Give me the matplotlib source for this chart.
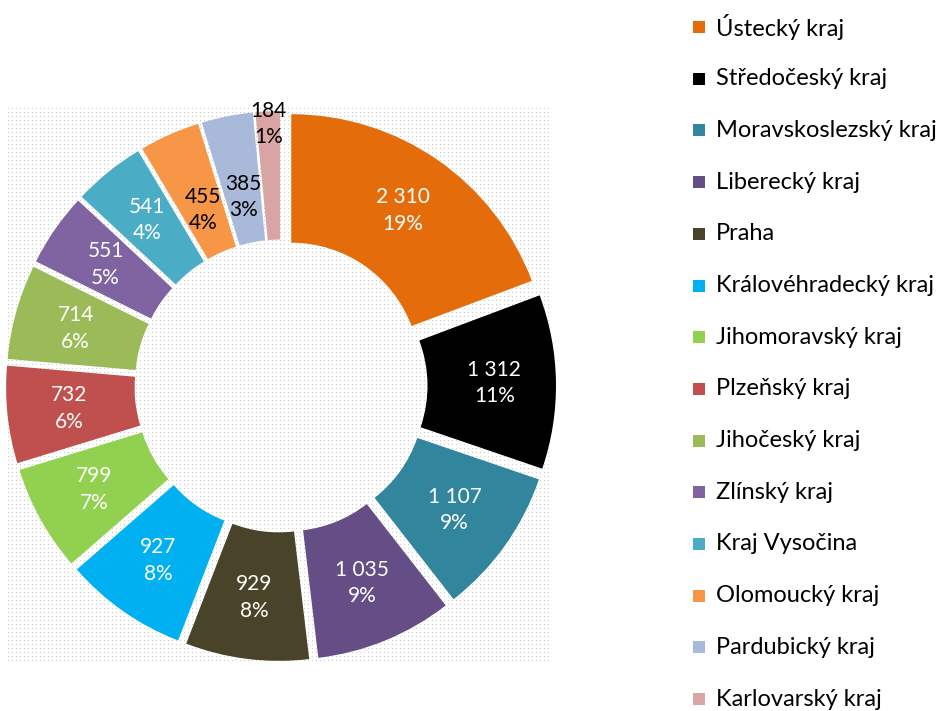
import matplotlib
matplotlib.use("Agg")
import matplotlib.pyplot as plt
import numpy as np
from matplotlib.patches import Rectangle

regions = ["Ústecký kraj", "Středočeský kraj", "Moravskoslezský kraj", "Liberecký kraj",
           "Praha", "Královéhradecký kraj", "Jihomoravský kraj", "Plzeňský kraj",
           "Jihočeský kraj", "Zlínský kraj", "Kraj Vysočina", "Olomoucký kraj",
           "Pardubický kraj", "Karlovarský kraj"]
counts = [2310, 1312, 1107, 1035, 929, 927, 799, 732, 714, 551, 541, 455, 385, 184]
shares = ["19%", "11%", "9%", "9%", "8%", "8%", "7%", "6%", "6%", "5%", "4%", "4%", "3%", "1%"]

COLORS = ["#E46C0A", "#000000", "#31859C", "#654E86", "#494429", "#00B0F0", "#92D050",
          "#C0504D", "#9BBB59", "#8064A2", "#4BACC6", "#F79646", "#A9B9D9", "#D9A5A4"]
TEXT_COLORS = ["white"] * 11 + ["black"] * 3
# label distance from the (exploded) wedge centre, in radii
LABEL_R = [0.76] * 11 + [0.68, 0.68, 0.95]

FONT = "Lato"
W, H = 951, 711

fig = plt.figure(figsize=(W / 100, H / 100), dpi=100)

# plot area in pixels
px_l, px_t, px_r, px_b = 7, 107, 552, 663
rect = [px_l / W, 1 - px_b / H, (px_r - px_l) / W, (px_b - px_t) / H]

# stippled background of the plot area
bg = fig.add_axes(rect)
pattern = np.ones((px_b - px_t, px_r - px_l))
pattern[1::4, 1::4] = 0.8
bg.imshow(pattern, cmap="gray", vmin=0, vmax=1, interpolation="nearest", aspect="auto")
bg.axis("off")

ax = fig.add_axes(rect)
ax.patch.set_alpha(0)
cx, cy, R = 281, 386, 257  # centre and outer radius in pixels

wedges, _ = ax.pie(counts, colors=COLORS, startangle=90, counterclock=False, radius=1,
                   explode=[0.07] * len(counts),
                   wedgeprops=dict(width=0.5, linewidth=0))
ax.set_aspect("auto")
ax.set_xlim((px_l - cx) / R, (px_r - cx) / R)
ax.set_ylim((cy - px_b) / R, (cy - px_t) / R)

for w, n, s, tc, rl in zip(wedges, counts, shares, TEXT_COLORS, LABEL_R):
    theta = np.deg2rad((w.theta1 + w.theta2) / 2)
    x = w.center[0] + rl * np.cos(theta)
    y = w.center[1] + rl * np.sin(theta)
    txt = "{:,}".format(n).replace(",", " ") + "\n" + s
    ax.text(x, y, txt, color=tc, ha="center", va="center", fontsize=15,
            family=FONT, linespacing=1.4)

# legend
for i, (name, c) in enumerate(zip(regions, COLORS)):
    yc = 27 + i * 51.7
    fig.patches.append(Rectangle((693 / W, 1 - (yc + 6) / H), 12 / W, 12 / H,
                                 transform=fig.transFigure, color=c, lw=0))
    fig.text(716 / W, 1 - yc / H, name, ha="left", va="center", fontsize=17, family=FONT)

fig.savefig("out.png", dpi=100)
